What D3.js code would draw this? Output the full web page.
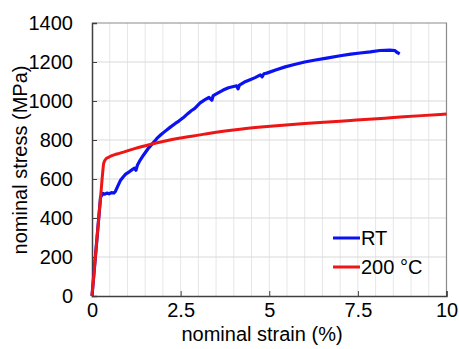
<!DOCTYPE html>
<html>
<head>
<meta charset="utf-8">
<script src="https://cdn.jsdelivr.net/npm/d3@7"></script>
<style>
  body { margin: 0; background: #fff; }
  svg text { font-family: "Liberation Sans", Arial, sans-serif; fill: #000; }
</style>
</head>
<body>
<svg width="459" height="349"></svg>
<script>
// strain (%) and stress (MPa)
var rtStrain = [0, 0.24, 0.27, 0.31, 0.36, 0.42, 0.48, 0.55, 0.62, 0.66, 0.73, 0.80, 0.89, 0.95, 1.06, 1.13, 1.20, 1.24, 1.28, 1.36,
  1.45, 1.6, 1.75, 1.83, 1.95, 2.05, 2.21, 2.35, 2.45, 2.58, 2.7, 2.8, 2.9, 3.05, 3.2, 3.3, 3.38, 3.42, 3.52,
  3.7, 3.85, 4.08, 4.12, 4.16, 4.3, 4.46, 4.6, 4.75, 4.8, 4.85, 4.93, 5.2, 5.45, 5.68, 6.0, 6.3, 6.62, 7.0, 7.3,
  7.56, 7.85, 8.12, 8.4, 8.54, 8.6, 8.68];
var rtStress = [0, 505, 515, 526, 522, 528, 524, 530, 528, 536, 565, 592, 613, 625, 638, 648, 655, 645, 670, 697,
  722, 760, 790, 808, 828, 843, 866, 885, 897, 915, 935, 950, 962, 990, 1008, 1018, 1004, 1028, 1038,
  1056, 1068, 1078, 1062, 1082, 1097, 1109, 1120, 1134, 1124, 1140, 1143, 1160, 1175, 1186, 1200, 1210, 1220, 1232, 1240,
  1246, 1252, 1259, 1261, 1259, 1250, 1242];

var hotStrain = [0, 0.1, 0.2, 0.26, 0.30, 0.33, 0.38, 0.47, 0.7, 0.89, 1.2, 1.64, 2.0, 2.49, 3.0, 3.33, 4.18, 5.03, 6.0, 7.0, 7.46, 8.5, 9.3, 10];
var hotStress = [0, 210, 420, 545, 630, 680, 700, 712, 728, 738, 756, 777, 792, 810, 825, 835, 855, 870, 884, 896, 902, 915, 925, 933];

var seriesNames = ["RT", "200 °C"];
var seriesColors = ["#0b12f2", "#ee1515"];
var xTicks = [0, 2.5, 5, 7.5, 10];
var yTicks = [0, 200, 400, 600, 800, 1000, 1200, 1400];

var svg = d3.select("svg");
var plotLeft = 92, plotTop = 23, plotRight = 446.5, plotBottom = 296;

var x = d3.scaleLinear().domain([0, 10]).range([plotLeft, plotRight]);
var y = d3.scaleLinear().domain([0, 1400]).range([plotBottom, plotTop]);

// light vertical grid every 0.5 %
svg.append("g").selectAll("line")
  .data(d3.range(0.5, 10, 0.5))
  .enter().append("line")
  .attr("x1", d => x(d)).attr("x2", d => x(d))
  .attr("y1", plotTop).attr("y2", plotBottom)
  .attr("stroke", "#e6e6e6").attr("stroke-width", 1);

// horizontal grid
svg.append("g").selectAll("line")
  .data(yTicks.slice(1, -1))
  .enter().append("line")
  .attr("x1", plotLeft).attr("x2", plotRight)
  .attr("y1", d => y(d)).attr("y2", d => y(d))
  .attr("stroke", "#d9d9d9").attr("stroke-width", 1.2);

// frame: top and right
svg.append("path")
  .attr("d", "M" + plotLeft + "," + plotTop + "H" + plotRight + "V" + plotBottom)
  .attr("fill", "none").attr("stroke", "#8a8a8a").attr("stroke-width", 1.2);

// axes with inward ticks
var xAxis = svg.append("g").attr("transform", "translate(0," + plotBottom + ")")
  .call(d3.axisBottom(x).tickValues(xTicks).tickSize(-5).tickPadding(7).tickFormat(d3.format("")));
var yAxis = svg.append("g").attr("transform", "translate(" + plotLeft + ",0)")
  .call(d3.axisLeft(y).tickValues(yTicks).tickSize(-5).tickPadding(19).tickFormat(d3.format("")));

[xAxis, yAxis].forEach(function (a) {
  a.select(".domain").attr("stroke", "#404040").attr("stroke-width", 1.5);
  a.selectAll(".tick line").attr("stroke", "#404040");
  a.selectAll("text").style("font-size", "20px").attr("font-family", null);
});
xAxis.selectAll(".tick text").attr("dy", "0.71em");

// curves
var rtLine = d3.line().x(d => x(d[0])).y(d => y(d[1]));
var hotLine = d3.line().x(d => x(d[0])).y(d => y(d[1])).curve(d3.curveMonotoneX);
var rt = d3.zip(rtStrain, rtStress);
var hot = d3.zip(hotStrain, hotStress);

svg.append("path").datum(rt)
  .attr("d", rtLine).attr("fill", "none")
  .attr("stroke", seriesColors[0]).attr("stroke-width", 3.2).attr("stroke-linejoin", "round");
svg.append("path").datum(hot)
  .attr("d", hotLine).attr("fill", "none")
  .attr("stroke", seriesColors[1]).attr("stroke-width", 3).attr("stroke-linejoin", "round");

// legend
var legend = svg.append("g").selectAll("g")
  .data(seriesNames)
  .enter().append("g")
  .attr("transform", (d, i) => "translate(333," + (238 + i * 29) + ")");
legend.append("line")
  .attr("x1", 0).attr("x2", 27)
  .attr("stroke", (d, i) => seriesColors[i]).attr("stroke-width", 3);
legend.append("text")
  .attr("x", 28).attr("dy", "0.36em")
  .style("font-size", "20px")
  .text(d => d);

// axis titles
svg.append("text")
  .attr("x", 262).attr("y", 341)
  .attr("text-anchor", "middle")
  .style("font-size", "20px")
  .text("nominal strain (%)");
svg.append("text")
  .attr("transform", "translate(27,160) rotate(-90)")
  .attr("text-anchor", "middle")
  .style("font-size", "20px")
  .text("nominal stress (MPa)");
</script>
</body>
</html>
